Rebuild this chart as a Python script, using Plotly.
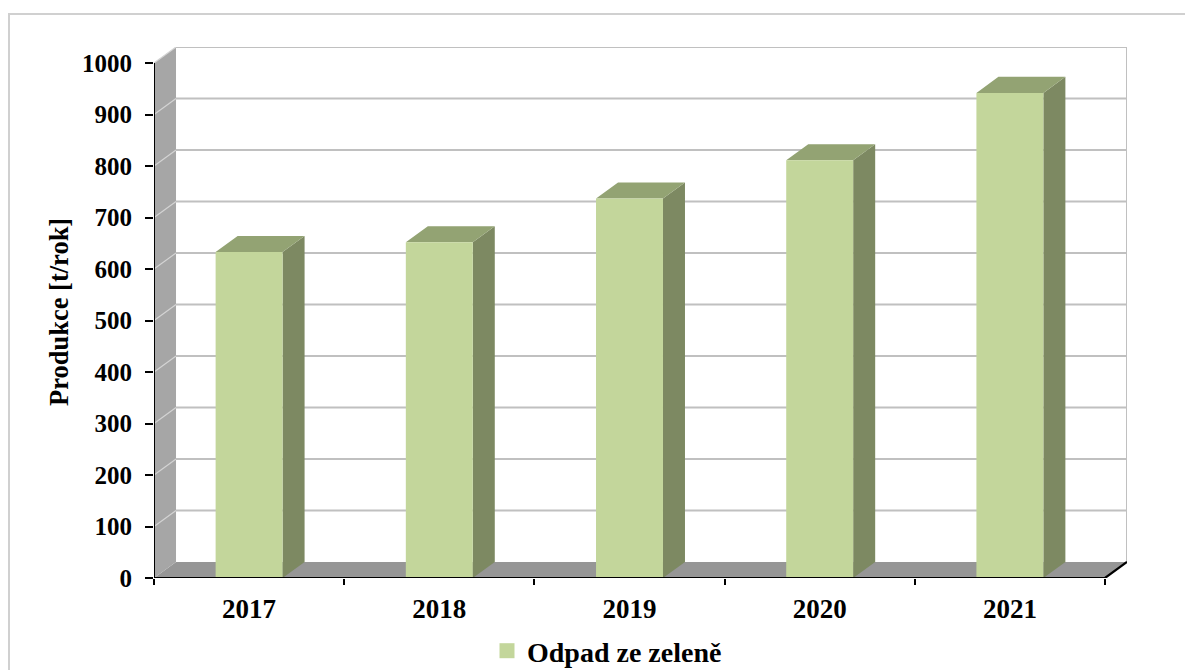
import plotly.graph_objects as go

# ---- data ----
years = ["2017", "2018", "2019", "2020", "2021"]
production = [633, 652, 737, 811, 942]          # t/rok
y_tick_values = [0, 100, 200, 300, 400, 500, 600, 700, 800, 900, 1000]
series_name = "Odpad ze zeleně"
y_title = "Produkce [t/rok]"

# ---- pseudo-3D geometry (in axis units) ----
DEPTH_X = 0.1157     # horizontal depth offset, category units
DEPTH_Y = 31.1       # vertical depth offset, value units
BAR_W = 0.352        # bar front-face width
Y_MAX = 1000
X_LO, X_HI = -0.5, len(years) - 0.5

FONT = "Liberation Serif, Times New Roman, serif"
FRONT = "#c3d69b"
SIDE = "#7d8962"
TOP = "#93a373"
WALL = "#a6a6a6"
FLOOR = "#969696"
GRID = "#c0c0c0"
WALL_GRID = "#d4d4d4"

W, H = 1185, 670
M_L, M_R, M_T, M_B = 154, 58, 47, 92

fig = go.Figure()


def poly(xs, ys, color):
    fig.add_trace(go.Scatter(
        x=xs, y=ys, mode="lines", fill="toself", fillcolor=color,
        line=dict(width=0, color=color), hoverinfo="skip",
        showlegend=False, cliponaxis=False))


def lines(xs, ys, color, width):
    fig.add_trace(go.Scatter(
        x=xs, y=ys, mode="lines", line=dict(color=color, width=width),
        hoverinfo="skip", showlegend=False, cliponaxis=False))


# floor
poly([X_LO, X_HI, X_HI + DEPTH_X, X_LO + DEPTH_X, X_LO],
     [0, 0, DEPTH_Y, DEPTH_Y, 0], FLOOR)
# left side wall
poly([X_LO, X_LO, X_LO + DEPTH_X, X_LO + DEPTH_X, X_LO],
     [0, Y_MAX, Y_MAX + DEPTH_Y, DEPTH_Y, 0], WALL)

# gridlines: diagonal on side wall, horizontal on back wall
wx, wy, bx, by = [], [], [], []
for v in y_tick_values[1:]:
    wx += [X_LO, X_LO + DEPTH_X, None]
    wy += [v, v + DEPTH_Y, None]
    bx += [X_LO + DEPTH_X, X_HI + DEPTH_X, None]
    by += [v + DEPTH_Y, v + DEPTH_Y, None]
lines(wx, wy, WALL_GRID, 1.2)
# back wall right edge
bx += [X_HI + DEPTH_X, X_HI + DEPTH_X, None]
by += [DEPTH_Y, Y_MAX + DEPTH_Y, None]
lines(bx, by, GRID, 2)

# bars: front, side and top faces
fx, fy, sx, sy, tx, ty = [], [], [], [], [], []
for i, v in enumerate(production):
    x0, x1 = i - BAR_W / 2, i + BAR_W / 2
    fx += [x0, x1, x1, x0, x0, None]
    fy += [0, 0, v, v, 0, None]
    sx += [x1, x1 + DEPTH_X, x1 + DEPTH_X, x1, x1, None]
    sy += [0, DEPTH_Y, v + DEPTH_Y, v, 0, None]
    tx += [x0, x0 + DEPTH_X, x1 + DEPTH_X, x1, x0, None]
    ty += [v, v + DEPTH_Y, v + DEPTH_Y, v, v, None]
poly(sx, sy, SIDE)
poly(tx, ty, TOP)
poly(fx, fy, FRONT)

# front axis lines
lines([X_LO, X_LO], [0, Y_MAX], "black", 2)
lines([X_LO, X_HI, X_HI + DEPTH_X], [0, 0, DEPTH_Y], "black", 2.2)

# legend entry
fig.add_trace(go.Scatter(
    x=[None], y=[None], mode="markers", name=series_name,
    marker=dict(symbol="square", size=15, color=FRONT),
    showlegend=True))

plot_w = W - M_L - M_R
plot_h = H - M_T - M_B


def px_x(p):
    return (p - M_L) / plot_w


def px_y(p):
    return (H - M_B - p) / plot_h


fig.update_layout(
    width=W, height=H,
    margin=dict(l=M_L, r=M_R, t=M_T, b=M_B, pad=0, autoexpand=False),
    paper_bgcolor="white", plot_bgcolor="white",
    font=dict(family=FONT, color="black"),
    xaxis=dict(
        range=[X_LO, X_HI + DEPTH_X],
        tickvals=list(range(len(years))), ticktext=years,
        ticks="", showgrid=False, zeroline=False, showline=False,
        tickfont=dict(family=FONT, size=27, weight="bold"),
        ticklabelstandoff=12,
        minor=dict(tickvals=[X_LO + k for k in range(len(years) + 1)],
                   ticks="outside", ticklen=6, tickwidth=1.5,
                   tickcolor="black", showgrid=False),
        automargin=False, fixedrange=True,
    ),
    yaxis=dict(
        range=[0, Y_MAX + DEPTH_Y],
        tickvals=y_tick_values,
        ticks="outside", ticklen=8, tickwidth=1.5, tickcolor="black",
        showgrid=False, zeroline=False, showline=False,
        tickfont=dict(family=FONT, size=25, weight="bold"),
        ticklabelstandoff=8,
        automargin=False, fixedrange=True,
    ),
    showlegend=True,
    legend=dict(
        orientation="h", x=px_x(487), y=px_y(651),
        xanchor="left", yanchor="middle",
        font=dict(family=FONT, size=28, weight="bold"),
        bgcolor="rgba(0,0,0,0)",
    ),
    annotations=[dict(
        text=y_title, textangle=-90, showarrow=False,
        xref="paper", yref="paper", x=px_x(59), y=px_y(312),
        xanchor="center", yanchor="middle",
        font=dict(family=FONT, size=26.5, weight="bold"),
    )],
    shapes=[dict(
        type="rect", xref="paper", yref="paper", layer="below",
        x0=px_x(9), x1=px_x(1400), y0=px_y(14), y1=px_y(800),
        line=dict(color="#d0d0d0", width=2), fillcolor="rgba(0,0,0,0)",
    )],
)

fig.write_html("out.html")
